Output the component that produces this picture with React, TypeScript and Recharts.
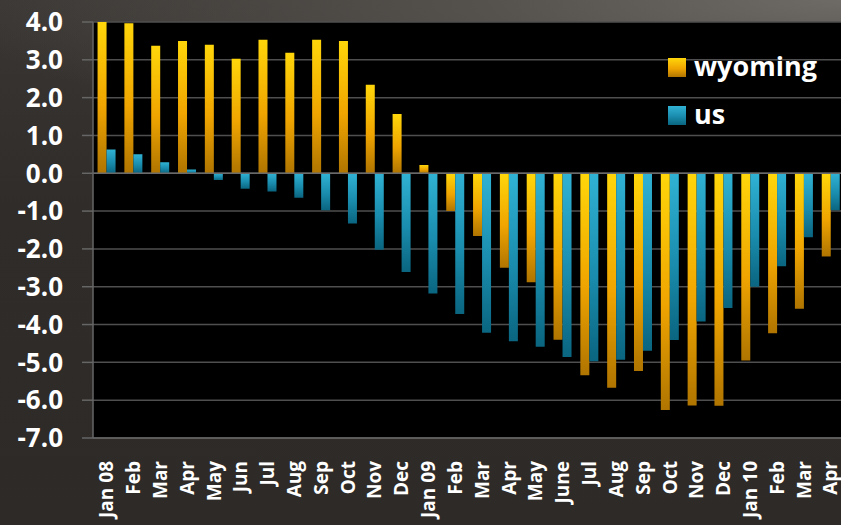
import React from 'react';
import { BarChart, Bar, XAxis, YAxis, CartesianGrid, Legend, ReferenceLine } from 'recharts';

const months = [
  'Jan 08', 'Feb', 'Mar', 'Apr', 'May', 'Jun', 'Jul', 'Aug', 'Sep', 'Oct', 'Nov', 'Dec',
  'Jan 09', 'Feb', 'Mar', 'Apr', 'May', 'June', 'Jul', 'Aug', 'Sep', 'Oct', 'Nov', 'Dec',
  'Jan 10', 'Feb', 'Mar', 'Apr',
];

const wyoming = [
  4.0, 3.97, 3.37, 3.5, 3.4, 3.03, 3.53, 3.19, 3.53, 3.5, 2.34, 1.57,
  0.22, -1.0, -1.66, -2.5, -2.88, -4.4, -5.34, -5.67, -5.23, -6.26, -6.14, -6.15,
  -4.95, -4.23, -3.58, -2.2,
];

const us = [
  0.63, 0.5, 0.29, 0.1, -0.18, -0.41, -0.48, -0.65, -0.98, -1.33, -2.02, -2.61,
  -3.18, -3.72, -4.22, -4.44, -4.59, -4.86, -4.97, -4.93, -4.69, -4.41, -3.92, -3.56,
  -3.0, -2.46, -1.69, -0.98,
];

const yTicks = [-7, -6, -5, -4, -3, -2, -1, 0, 1, 2, 3, 4];

const data = months.map((m, i) => ({ month: m, wyoming: wyoming[i], us: us[i] }));

const FONT = '"Open Sans", Lato, sans-serif';

const XTick = (props: any) => {
  const { x, y, payload } = props;
  return (
    <g transform={`translate(${x},${y + 23})`}>
      <text
        transform="rotate(-90)"
        textAnchor="end"
        dy="0.36em"
        fill="#ffffff"
        fontSize={19}
        fontWeight={700}
        fontFamily={FONT}
      >
        {payload.value}
      </text>
    </g>
  );
};

const LegendContent = () => (
  <div style={{ position: 'relative', width: 170, height: 80, fontFamily: FONT }}>
    {[
      { name: 'wyoming', bg: 'linear-gradient(to bottom, #FFD60A, #F0A500 55%, #B07500)', top: 0 },
      { name: 'us', bg: 'linear-gradient(to bottom, #30B2D4, #1A8CAD 55%, #0A6580)', top: 48 },
    ].map((it) => (
      <div key={it.name} style={{ position: 'absolute', left: 0, top: it.top, height: 30, display: 'flex', alignItems: 'center' }}>
        <div style={{ width: 18, height: 19, background: it.bg }} />
        <span style={{ marginLeft: 8, color: '#fff', fontSize: 27, fontWeight: 700, lineHeight: '30px', marginTop: -3 }}>{it.name}</span>
      </div>
    ))}
  </div>
);

export default function App() {
  return (
    <div
      style={{
        position: 'absolute',
        left: 0,
        top: 0,
        width: 841,
        height: 525,
        overflow: 'hidden',
        backgroundColor: '#2e2b29',
        backgroundImage:
          'radial-gradient(ellipse 900px 160px at 100% 0%, #6e6a65 0%, #55514d 40%, rgba(46,43,41,0) 100%), linear-gradient(to bottom, #3a3633 0%, #2f2c2a 40%, #2d2a28 100%)',
      }}
    >
      <BarChart
        width={844}
        height={525}
        data={data}
        margin={{ top: 22, right: 0, bottom: 0, left: 0 }}
        barCategoryGap="17%"
        barGap={0}
      >
        <defs>
          <linearGradient id="gWy" x1="0" y1="0" x2="0" y2="1">
            <stop offset="0%" stopColor="#FFD60A" />
            <stop offset="55%" stopColor="#F0A500" />
            <stop offset="100%" stopColor="#B07500" />
          </linearGradient>
          <linearGradient id="gUs" x1="0" y1="0" x2="0" y2="1">
            <stop offset="0%" stopColor="#30B2D4" />
            <stop offset="55%" stopColor="#1A8CAD" />
            <stop offset="100%" stopColor="#0A6580" />
          </linearGradient>
        </defs>
        <CartesianGrid vertical={false} fill="#000000" stroke="#4f4f4f" strokeWidth={1.5} />
        <XAxis
          dataKey="month"
          interval={0}
          height={87}
          tickLine={false}
          tickSize={0}
          tickMargin={0}
          axisLine={{ stroke: '#666', strokeWidth: 1.5 }}
          tick={<XTick />}
        />
        <YAxis
          domain={[-7, 4]}
          ticks={yTicks}
          interval={0}
          width={93}
          tickSize={11}
          tickMargin={19}
          allowDataOverflow
          tickFormatter={(v: number) => v.toFixed(1)}
          axisLine={{ stroke: '#666', strokeWidth: 1.5 }}
          tickLine={{ stroke: '#666', strokeWidth: 1.5 }}
          tick={{ fill: '#ffffff', fontSize: 26, fontWeight: 700, fontFamily: FONT }}
        />
        <ReferenceLine y={0} stroke="#6a6a6a" strokeWidth={1.5} />
        <Legend
          layout="vertical"
          align="center"
          verticalAlign="middle"
          wrapperStyle={{ left: 668, top: 52.5, width: 170 }}
          content={<LegendContent />}
        />
        <Bar dataKey="wyoming" name="wyoming" fill="url(#gWy)" isAnimationActive={false} />
        <Bar dataKey="us" name="us" fill="url(#gUs)" isAnimationActive={false} />
      </BarChart>
    </div>
  );
}
